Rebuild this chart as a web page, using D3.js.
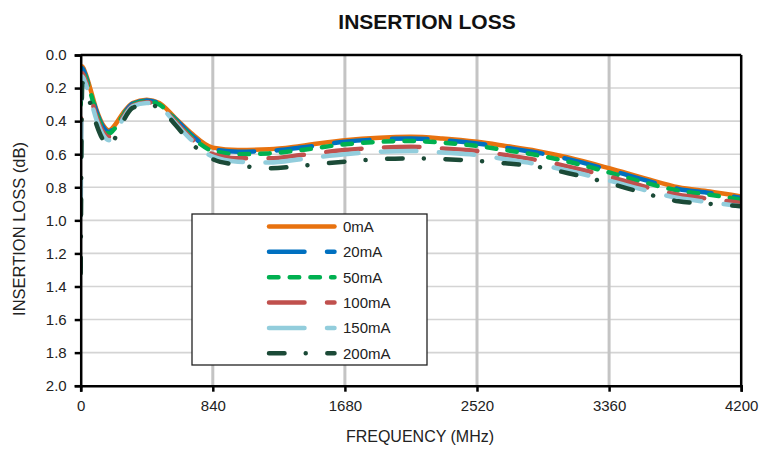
<!DOCTYPE html>
<html>
<head>
<meta charset="utf-8">
<script src="https://cdn.jsdelivr.net/npm/d3@7"></script>
<style>
  body { margin: 0; background: #fff; }
  svg { font-family: Arial, "Liberation Sans", sans-serif; }
</style>
</head>
<body>
<div id="chart"></div>
<script>
// frequency points (MHz) shared by all curves
const freqs = [0, 10, 30, 60, 100, 140, 180, 220, 270, 330, 420, 500, 600, 700, 840,
    1000, 1200, 1400, 1680, 1900, 2100, 2300, 2520, 2700, 2900, 3100, 3360, 3600, 3800, 4000, 4200];

const loss0 = [0.12, 0.07, 0.11, 0.2, 0.33, 0.42, 0.455, 0.42, 0.35, 0.29, 0.27, 0.29, 0.38, 0.47, 0.56,
    0.575, 0.57, 0.55, 0.515, 0.5, 0.495, 0.505, 0.525, 0.55, 0.58, 0.62, 0.685, 0.75, 0.8, 0.825, 0.855];
const loss20 = [0.2, 0.08, 0.12, 0.21, 0.34, 0.43, 0.465, 0.43, 0.36, 0.295, 0.275, 0.295, 0.385, 0.48, 0.57,
    0.585, 0.58, 0.56, 0.525, 0.51, 0.505, 0.515, 0.535, 0.56, 0.59, 0.63, 0.695, 0.76, 0.81, 0.835, 0.865];
const loss50 = [0.3, 0.09, 0.13, 0.22, 0.35, 0.44, 0.475, 0.44, 0.365, 0.3, 0.28, 0.3, 0.39, 0.49, 0.58,
    0.6, 0.595, 0.575, 0.54, 0.525, 0.52, 0.53, 0.55, 0.575, 0.605, 0.645, 0.71, 0.775, 0.82, 0.845, 0.875];
const loss100 = [0.6, 0.11, 0.15, 0.24, 0.37, 0.46, 0.495, 0.455, 0.375, 0.305, 0.285, 0.305, 0.4, 0.5, 0.6,
    0.625, 0.625, 0.605, 0.575, 0.56, 0.555, 0.565, 0.58, 0.605, 0.635, 0.675, 0.735, 0.8, 0.845, 0.87, 0.895];
const loss150 = [0.97, 0.13, 0.17, 0.26, 0.39, 0.48, 0.515, 0.47, 0.385, 0.31, 0.29, 0.31, 0.41, 0.51, 0.615,
    0.645, 0.65, 0.63, 0.6, 0.585, 0.58, 0.59, 0.605, 0.63, 0.66, 0.7, 0.76, 0.82, 0.865, 0.89, 0.915];
const loss200 = [1.32, 0.17, 0.2, 0.29, 0.42, 0.51, 0.55, 0.5, 0.4, 0.32, 0.3, 0.32, 0.42, 0.53, 0.63,
    0.665, 0.685, 0.67, 0.645, 0.63, 0.625, 0.63, 0.64, 0.655, 0.675, 0.715, 0.775, 0.84, 0.885, 0.9, 0.915];

const seriesNames = ["0mA", "20mA", "50mA", "100mA", "150mA", "200mA"];
const xTicks = [0, 840, 1680, 2520, 3360, 4200];
const yTicks = [0, 0.2, 0.4, 0.6, 0.8, 1.0, 1.2, 1.4, 1.6, 1.8, 2.0];

const styles = [
    {color: "#E8720F", dash: null},
    {color: "#0070C0", dash: "35.5,22.5"},
    {color: "#00B050", dash: "9.5,11.2"},
    {color: "#C0504D", dash: "35.5,22.5"},
    {color: "#92CDDC", dash: "35.5,22.5"},
    {color: "#1B4A37", dash: "15.5,21.2,0.01,21.6"}
];

const data = [loss0, loss20, loss50, loss100, loss150, loss200].map(function (vals, i) {
    return {
        name: seriesNames[i],
        color: styles[i].color,
        dash: styles[i].dash,
        values: freqs.map(function (f, j) { return {freq: f, loss: vals[j]}; })
    };
});

const width = 762, height = 451;
const plot = {left: 80.7, right: 741.2, top: 55, bottom: 385.7};

const svg = d3.select("#chart").append("svg")
    .attr("width", width)
    .attr("height", height);

const x = d3.scaleLinear().domain([0, 4200]).range([plot.left, plot.right]);
const y = d3.scaleLinear().domain([0, 2]).range([plot.top, plot.bottom]);

// gridlines
svg.append("g")
    .selectAll("line")
    .data(yTicks.slice(1, -1))
    .enter().append("line")
    .attr("x1", plot.left).attr("x2", plot.right)
    .attr("y1", d => y(d)).attr("y2", d => y(d))
    .attr("stroke", "#d4d4d4")
    .attr("stroke-width", 1.6);

svg.append("g")
    .selectAll("line")
    .data(xTicks.slice(1, -1))
    .enter().append("line")
    .attr("x1", d => x(d)).attr("x2", d => x(d))
    .attr("y1", plot.top).attr("y2", plot.bottom)
    .attr("stroke", "#c4c4c4")
    .attr("stroke-width", 3);

svg.append("defs").append("clipPath")
    .attr("id", "clip")
    .append("rect")
    .attr("x", plot.left).attr("y", plot.top - 3)
    .attr("width", plot.right - plot.left).attr("height", plot.bottom - plot.top + 3);

const line = d3.line()
    .x(d => x(d.freq))
    .y(d => y(d.loss))
    .curve(d3.curveMonotoneX);

svg.append("g")
    .attr("clip-path", "url(#clip)")
    .selectAll("path")
    .data(data)
    .enter().append("path")
    .attr("d", d => line(d.values))
    .attr("fill", "none")
    .attr("stroke", d => d.color)
    .attr("stroke-width", 4.5)
    .attr("stroke-linecap", "round")
    .attr("stroke-linejoin", "round")
    .attr("stroke-dasharray", d => d.dash);

// frame and axes
svg.append("line")
    .attr("x1", plot.left).attr("x2", plot.right)
    .attr("y1", plot.top).attr("y2", plot.top)
    .attr("stroke", "#000").attr("stroke-width", 2.5);
svg.append("line")
    .attr("x1", plot.right).attr("x2", plot.right)
    .attr("y1", plot.top).attr("y2", plot.bottom)
    .attr("stroke", "#000").attr("stroke-width", 2.5);

const xAxis = svg.append("g")
    .attr("transform", "translate(0," + plot.bottom + ")")
    .call(d3.axisBottom(x).tickValues(xTicks).tickSize(6).tickPadding(9).tickFormat(d3.format("d")));

const yAxis = svg.append("g")
    .attr("transform", "translate(" + plot.left + ",0)")
    .call(d3.axisLeft(y).tickValues(yTicks).tickSize(6).tickPadding(8).tickFormat(d3.format(".1f")));

[xAxis, yAxis].forEach(function (ax) {
    ax.select(".domain").attr("stroke", "#000").attr("stroke-width", 2.5);
    ax.selectAll(".tick line").attr("stroke", "#000").attr("stroke-width", 2.5);
    ax.selectAll(".tick text")
        .attr("fill", "#222")
        .style("font-size", "15px")
        .style("font-family", "Arial, 'Liberation Sans', sans-serif");
});

// titles
svg.append("text")
    .attr("x", 427).attr("y", 29)
    .attr("text-anchor", "middle")
    .style("font-size", "21px")
    .style("font-weight", "bold")
    .attr("fill", "#111")
    .text("INSERTION LOSS");

svg.append("text")
    .attr("x", 420).attr("y", 442)
    .attr("text-anchor", "middle")
    .style("font-size", "16px")
    .attr("fill", "#222")
    .text("FREQUENCY (MHz)");

svg.append("text")
    .attr("transform", "translate(25,229) rotate(-90)")
    .attr("text-anchor", "middle")
    .style("font-size", "16.5px")
    .attr("fill", "#222")
    .text("INSERTION LOSS (dB)");

// legend
const legend = svg.append("g");
legend.append("rect")
    .attr("x", 192).attr("y", 214)
    .attr("width", 235).attr("height", 151)
    .attr("fill", "#fff")
    .attr("stroke", "#222")
    .attr("stroke-width", 1.3);

const rowY = d3.scaleLinear().domain([0, 5]).range([226.5, 353.3]);

const item = legend.selectAll(".item")
    .data(data)
    .enter().append("g")
    .attr("class", "item")
    .attr("transform", (d, i) => "translate(0," + rowY(i) + ")");

item.append("line")
    .attr("x1", 269).attr("x2", 334.5)
    .attr("stroke", d => d.color)
    .attr("stroke-width", 4.5)
    .attr("stroke-linecap", "round")
    .attr("stroke-dasharray", d => d.dash);

item.append("text")
    .attr("x", 343).attr("dy", "0.36em")
    .style("font-size", "15px")
    .attr("fill", "#222")
    .text(d => d.name);
</script>
</body>
</html>
